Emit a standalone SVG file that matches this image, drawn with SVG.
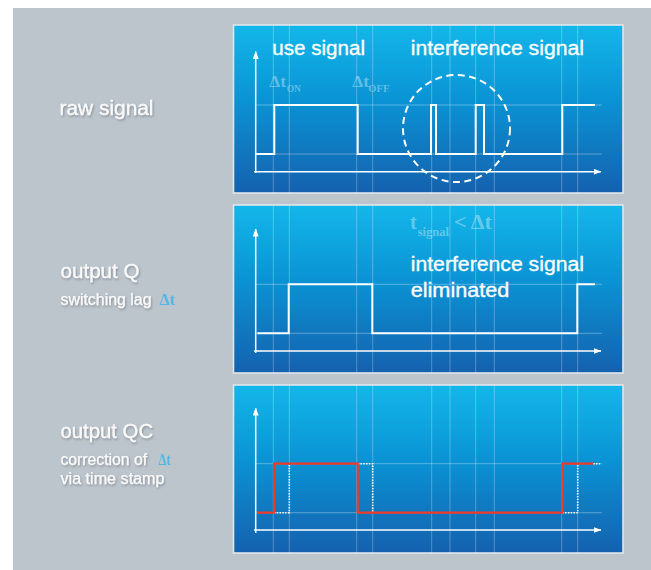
<svg xmlns="http://www.w3.org/2000/svg" width="651" height="570" viewBox="0 0 651 570">
  <defs>
    <linearGradient id="panelFill" x1="0" y1="0" x2="0" y2="1">
      <stop offset="0" stop-color="#13b7ea"/>
      <stop offset="0.45" stop-color="#0a93d4"/>
      <stop offset="1" stop-color="#1561ae"/>
    </linearGradient>
    <filter id="soft" x="-10%" y="-30%" width="130%" height="170%">
      <feDropShadow dx="1" dy="1.5" stdDeviation="0.8" flood-color="#5a6570" flood-opacity="0.55"/>
    </filter>
    <marker id="tip" viewBox="0 0 8 6" refX="7.5" refY="3" markerWidth="8" markerHeight="6" markerUnits="userSpaceOnUse" orient="auto">
      <path d="M0,0 L8,3 L0,6 Z" fill="#ffffff"/>
    </marker>
    <!-- vertical time grid shared by all three charts -->
    <g id="grid">
      <path d="M273.3,0V168 M289.3,0V168 M356.7,0V168 M372.7,0V168 M431.7,0V168 M450,0V168 M475.7,0V168 M494.3,0V168 M561.7,0V168 M577.7,0V168"/>
    </g>
  </defs>
  <style>
    .panel { fill: url(#panelFill); stroke: #dfe6ec; stroke-width: 1.6; }
    .grid { stroke: #ffffff; stroke-opacity: 0.28; stroke-width: 1; fill: none; }
    .guide { stroke: #ffffff; stroke-opacity: 0.32; stroke-width: 1; fill: none; }
    .axis { stroke: #ffffff; stroke-width: 1.5; fill: none; marker-end: url(#tip); }
    .sig { stroke: #ffffff; stroke-width: 2; fill: none; stroke-linejoin: miter; }
    .red { stroke: #ee3a28; stroke-width: 2.2; fill: none; }
    .dots { stroke: #ffffff; stroke-width: 1.6; stroke-dasharray: 1.4 1.4; fill: none; }
    .ring { stroke: #ffffff; stroke-width: 2; stroke-dasharray: 7 4.5; fill: none; }
    .big { font-family: "Liberation Sans", Arial, sans-serif; font-size: 20.5px; fill: #ffffff; stroke: #ffffff; stroke-width: 0.35; }
    .lab { font-family: "Liberation Sans", Arial, sans-serif; font-size: 20px; fill: #fafafa; stroke: #fafafa; stroke-width: 0.3; filter: url(#soft); }
    .sub { font-family: "Liberation Sans", Arial, sans-serif; font-size: 16px; fill: #fafafa; stroke: #fafafa; stroke-width: 0.25; filter: url(#soft); }
    .dt { font-family: "Liberation Serif", "Times New Roman", serif; font-weight: bold; fill: #ffffff; fill-opacity: 0.36; }
    .dtl { font-family: "Liberation Serif", "Times New Roman", serif; font-weight: bold; font-size: 17px; fill: #56b6e2; }
  </style>

  <!-- backdrop -->
  <rect x="13" y="8" width="638" height="562" fill="#bdc5cc"/>

  <!-- row labels -->
  <g id="label-raw">
    <text class="lab" x="59.5" y="114.5" textLength="94" lengthAdjust="spacingAndGlyphs">raw signal</text>
  </g>
  <g id="label-q">
    <text class="lab" x="60.5" y="277.5" textLength="79" lengthAdjust="spacingAndGlyphs">output Q</text>
    <text class="sub" x="60.5" y="305" textLength="91" lengthAdjust="spacingAndGlyphs">switching lag</text>
    <text class="dtl" x="159.3" y="305" textLength="15.7" lengthAdjust="spacingAndGlyphs">Δt</text>
  </g>
  <g id="label-qc">
    <text class="lab" x="60.5" y="437.5" textLength="92.6" lengthAdjust="spacingAndGlyphs">output QC</text>
    <text class="sub" x="60.5" y="465" textLength="86.6" lengthAdjust="spacingAndGlyphs">correction of</text>
    <text class="dtl" x="158.3" y="465" textLength="12" lengthAdjust="spacingAndGlyphs">Δt</text>
    <text class="sub" x="60.5" y="484" textLength="104" lengthAdjust="spacingAndGlyphs">via time stamp</text>
  </g>

  <!-- chart 1: raw signal -->
  <g id="chart-raw">
    <rect class="panel" x="233.5" y="25" width="389.5" height="168"/>
    <use href="#grid" class="grid" y="25"/>
    <path class="guide" d="M255,105H602 M255,154H602"/>
    <path class="axis" d="M255.7,173V51.5"/>
    <path class="axis" d="M254,171.7H601"/>
    <path class="sig" d="M256,154H274.3V105H357.7V154H431V105H436V154H475.7V105H484V154H562.3V105H595"/>
    <circle class="ring" cx="456.5" cy="128.5" r="53.5"/>
    <text class="big" x="272.3" y="55" textLength="92.7" lengthAdjust="spacingAndGlyphs">use signal</text>
    <text class="big" x="410.7" y="55" textLength="173.3" lengthAdjust="spacingAndGlyphs">interference signal</text>
    <text class="dt" x="269.3" y="86.7" font-size="17" textLength="16.7" lengthAdjust="spacingAndGlyphs">Δt</text>
    <text class="dt" x="286.7" y="91.7" font-size="10" textLength="14.3" lengthAdjust="spacingAndGlyphs">ON</text>
    <text class="dt" x="352.3" y="86.7" font-size="17" textLength="16.7" lengthAdjust="spacingAndGlyphs">Δt</text>
    <text class="dt" x="368.3" y="91.7" font-size="10" textLength="21" lengthAdjust="spacingAndGlyphs">OFF</text>
  </g>

  <!-- chart 2: output Q -->
  <g id="chart-q">
    <rect class="panel" x="233.5" y="205" width="389.5" height="168"/>
    <use href="#grid" class="grid" y="205"/>
    <path class="guide" d="M255,284.3H602 M255,333.3H602"/>
    <path class="axis" d="M255.7,353V229"/>
    <path class="axis" d="M254,351H601"/>
    <path class="sig" d="M257.3,333.3H288.7V284.3H372.3V333.3H577.3V284.3H595"/>
    <text class="dt" x="410" y="229.3" font-size="20" textLength="6.7" lengthAdjust="spacingAndGlyphs">t</text>
    <text class="dt" x="417.7" y="236" font-size="12.5" textLength="31.3" lengthAdjust="spacingAndGlyphs">signal</text>
    <text class="dt" x="454" y="229.3" font-size="20" textLength="12.7" lengthAdjust="spacingAndGlyphs">&lt;</text>
    <text class="dt" x="470.7" y="229.3" font-size="20" textLength="21" lengthAdjust="spacingAndGlyphs">Δt</text>
    <text class="big" x="410.7" y="270.7" textLength="173.3" lengthAdjust="spacingAndGlyphs">interference signal</text>
    <text class="big" x="410.7" y="296.7" textLength="98.7" lengthAdjust="spacingAndGlyphs">eliminated</text>
  </g>

  <!-- chart 3: output QC -->
  <g id="chart-qc">
    <rect class="panel" x="233.5" y="385" width="389.5" height="168"/>
    <use href="#grid" class="grid" y="385"/>
    <path class="guide" d="M255,463.7H602 M255,512.7H602"/>
    <path class="axis" d="M255.7,533V408"/>
    <path class="axis" d="M254,530H601"/>
    <!-- delayed output shown dotted where it differs -->
    <path class="dots" d="M274,512.7H289.3V463.7 M357.7,463.7H372.7V512.7 M562.3,512.7H577.7V463.7 M593.3,463.7H600"/>
    <path class="red" d="M257,512.7H274V463.7H357.7V512.7H562.3V463.7H593.3"/>
  </g>
</svg>
